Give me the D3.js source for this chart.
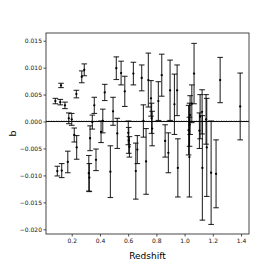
<!DOCTYPE html>
<html><head><meta charset="utf-8">
<script src="https://cdnjs.cloudflare.com/ajax/libs/d3/7.8.5/d3.min.js"></script>
<style>body{margin:0;background:#fff}svg{display:block}</style>
</head><body>
<svg id="c" width="277" height="277"></svg>
<script>
const redshift = [0.084,0.119,0.152,0.124,0.233,0.271,0.289,0.179,0.200,0.360,0.434,0.493,
  0.098,0.129,0.172,0.218,0.235,0.321,0.325,0.330,0.346,0.372,0.408,0.420,0.474,0.523,
  0.516,0.550,0.576,0.601,0.609,0.604,0.637,0.654,0.665,0.696,0.708,0.743,0.727,0.762,
  0.770,0.766,0.814,0.838,0.862,0.885,0.897,0.928,0.947,0.952,1.034,1.039,1.051,1.067,
  1.028,1.035,1.105,1.110,1.124,1.126,1.152,1.157,1.188,1.223,1.252,1.394];
const bValues = [0.0038,0.0036,0.0030,0.0067,0.0051,0.0083,0.0096,0.0006,0.0004,0.0030,0.0054,0.0019,
  -0.0092,-0.0091,-0.0075,-0.0025,-0.0048,-0.0096,-0.0104,-0.0031,-0.0001,-0.0071,-0.0019,0.0001,-0.0093,-0.0022,
  0.0099,0.0090,0.0056,-0.0021,-0.0047,-0.0035,0.0089,-0.0092,-0.0052,0.0081,0.0001,0.0077,-0.0074,0.0043,
  -0.0013,0.0006,0.0038,0.0086,-0.0036,-0.0058,0.0058,0.0032,0.0058,-0.0086,-0.0066,0.0012,0.0033,0.0089,
  -0.0016,-0.0006,-0.0017,0.0009,0.0018,-0.0086,0.0004,-0.0048,-0.0095,-0.0097,0.0077,0.0028];
const bErrors = [0.0005,0.0005,0.0006,0.0004,0.0007,0.0011,0.0011,0.0010,0.0011,0.0015,0.0015,0.0026,
  0.0009,0.0013,0.0020,0.0013,0.0022,0.0033,0.0026,0.0023,0.0013,0.0020,0.0020,0.0022,0.0048,0.0028,
  0.0021,0.0022,0.0028,0.0022,0.0019,0.0024,0.0021,0.0052,0.0026,0.0024,0.0030,0.0050,0.0061,0.0033,
  0.0032,0.0028,0.0036,0.0039,0.0030,0.0037,0.0056,0.0056,0.0047,0.0054,0.0074,0.0036,0.0035,0.0056,
  0.0046,0.0040,0.0033,0.0041,0.0041,0.0097,0.0046,0.0091,0.0096,0.0063,0.0042,0.0062];
const xTicks = [0.2,0.4,0.6,0.8,1.0,1.2,1.4];
const yTicks = [0.015,0.010,0.005,0.000,-0.005,-0.010,-0.015,-0.020];
const xLabel = "Redshift", yLabel = "b";

const L=46,R=249,T=33,B=234;
const svg=d3.select("#c");
const x=d3.scaleLinear().domain([0.0177,1.4564]).range([L,R]);
const y=d3.scaleLinear().domain([-0.02087,0.01643]).range([B,T]);
const font="DejaVu Sans";

const xa=svg.append("g").attr("transform",`translate(0,${B})`)
  .call(d3.axisBottom(x).tickValues(xTicks).tickFormat(d3.format(".1f")).tickSize(2.5).tickPadding(2));
const ya=svg.append("g").attr("transform",`translate(${L},0)`)
  .call(d3.axisLeft(y).tickValues(yTicks).tickFormat(d=>d3.format(".3f")(d).replace("-","\u2212")).tickSize(2.5).tickPadding(1.5));
[xa,ya].forEach(a=>{a.select(".domain").remove();
  a.selectAll("text").attr("font-family",font).attr("font-size",6).attr("fill","#111");
  a.selectAll("line").attr("stroke","#222").attr("stroke-width",0.8);});

const g=svg.append("g");
const data=redshift.map((z,i)=>({z,b:bValues[i],e:bErrors[i]}));
g.append("line").attr("x1",L).attr("x2",R).attr("y1",y(0)).attr("y2",y(0))
  .attr("stroke","#000").attr("stroke-width",1);
g.append("line").attr("x1",L).attr("x2",R).attr("y1",y(0)-0.8).attr("y2",y(0)-0.8)
  .attr("stroke","#777").attr("stroke-width",0.6).attr("stroke-dasharray","1,1.5");

const eb=g.selectAll("g.eb").data(data).enter().append("g")
  .attr("stroke","#000").attr("stroke-opacity",0.82).attr("stroke-width",1.1);
eb.append("line").attr("x1",d=>x(d.z)).attr("x2",d=>x(d.z)).attr("y1",d=>y(d.b-d.e)).attr("y2",d=>y(d.b+d.e));
eb.append("line").attr("x1",d=>x(d.z)-2.8).attr("x2",d=>x(d.z)+2.8).attr("y1",d=>y(d.b+d.e)).attr("y2",d=>y(d.b+d.e));
eb.append("line").attr("x1",d=>x(d.z)-2.8).attr("x2",d=>x(d.z)+2.8).attr("y1",d=>y(d.b-d.e)).attr("y2",d=>y(d.b-d.e));
g.selectAll("circle").data(data).enter().append("circle")
  .attr("cx",d=>x(d.z)).attr("cy",d=>y(d.b)).attr("r",1.15).attr("fill","#000");

svg.append("rect").attr("x",L).attr("y",T).attr("width",R-L).attr("height",B-T)
  .attr("fill","none").attr("stroke","#333").attr("stroke-width",0.9);

svg.append("text").attr("x",(L+R)/2).attr("y",258.5).attr("text-anchor","middle")
  .attr("font-family",font).attr("font-size",9).attr("fill","#000").text(xLabel);
svg.append("text").attr("transform",`translate(15.5,${(T+B)/2}) rotate(-90)`).attr("text-anchor","middle")
  .attr("font-family",font).attr("font-size",9.5).attr("fill","#000").text(yLabel);
</script>
</body></html>
